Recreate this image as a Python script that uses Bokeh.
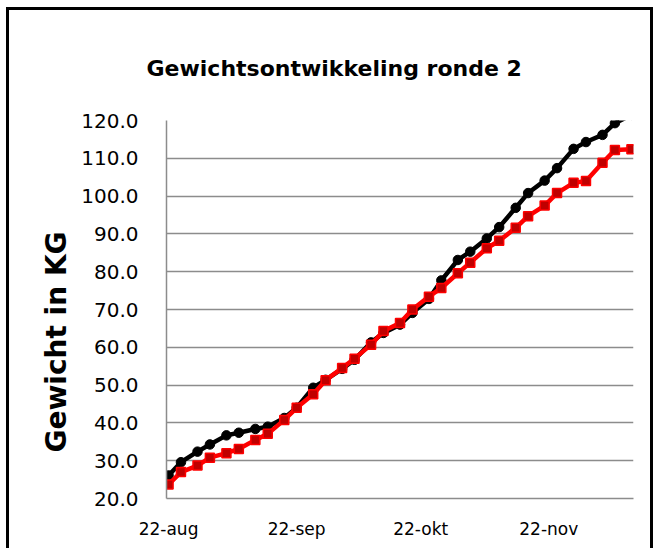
import pandas as pd
from bokeh.plotting import figure
from bokeh.models import ColumnDataSource, FixedTicker, Range1d, NumeralTickFormatter, Title
from bokeh.embed import file_html
from bokeh.resources import INLINE

# ---- data ----
dates = ["2011-08-22", "2011-08-25", "2011-08-29", "2011-09-01", "2011-09-05", "2011-09-08",
         "2011-09-12", "2011-09-15", "2011-09-19", "2011-09-22", "2011-09-26", "2011-09-29",
         "2011-10-03", "2011-10-06", "2011-10-10", "2011-10-13", "2011-10-17", "2011-10-20",
         "2011-10-24", "2011-10-27", "2011-10-31", "2011-11-03", "2011-11-07", "2011-11-10",
         "2011-11-14", "2011-11-17", "2011-11-21", "2011-11-24", "2011-11-28", "2011-12-01",
         "2011-12-05", "2011-12-08", "2011-12-12"]
black_series = [26.1, 29.6, 32.4, 34.3, 36.7, 37.4, 38.4, 39.0, 41.3, 44.0,
                49.3, 51.4, 54.3, 56.7, 61.3, 63.8, 66.0, 69.1, 72.8, 77.7,
                83.1, 85.3, 88.8, 91.8, 96.9, 100.8, 104.1, 107.4, 112.5, 114.3,
                116.2, 119.3, 121.5]
red_series = [23.7, 27.0, 28.7, 30.8, 32.0, 33.1, 35.5, 37.1, 40.8, 44.0,
              47.6, 51.3, 54.5, 57.0, 60.7, 64.3, 66.4, 70.0, 73.4, 75.7,
              79.6, 82.4, 86.2, 88.2, 91.6, 94.7, 97.5, 100.8, 103.5, 104.0,
              108.8, 112.2, 112.4]
tick_dates = ["2011-08-22", "2011-09-22", "2011-10-22", "2011-11-22"]
tick_labels = ["22-aug", "22-sep", "22-okt", "22-nov"]
y_ticks = [20, 30, 40, 50, 60, 70, 80, 90, 100, 110, 120]
title_text = "Gewichtsontwikkeling ronde 2"
y_title = "Gewicht in KG"

FONT = "DejaVu Sans"
GRID = "#8c8c8c"

def to_ms(ds):
    return [float(pd.Timestamp(d).value // 10**6) for d in ds]

x_ms = to_ms(dates)
tick_ms = to_ms(tick_dates)
DAY = 86400000.0

x_start = x_ms[0] - 0.5 * DAY
x_end = x_ms[-1] + 0.5 * DAY

p = figure(width=647, height=541, x_axis_type="datetime",
           output_backend="svg", toolbar_location=None,
           x_range=Range1d(start=x_start, end=x_end), y_range=Range1d(start=20, end=120),
           min_border_left=157, min_border_right=23, min_border_top=110, min_border_bottom=53)
p.styles = {"margin-left": "6px", "margin-top": "7px",
            "border": "3px solid black", "border-bottom": "none"}
p.outline_line_color = None
p.background_fill_color = "white"
p.border_fill_color = "white"

# chart title
p.title.text = title_text
p.title.text_font = FONT
p.title.text_font_style = "bold"
p.title.text_font_size = "22px"
p.title.text_color = "black"
p.title.align = "left"
p.title.offset = -20
p.title.vertical_align = "middle"
p.title.standoff = 78

# y-axis title (as a side title so it can sit lower, like the original)
ytitle = Title(text=y_title, text_font=FONT, text_font_style="bold", text_font_size="28px",
               text_color="black", align="left", offset=46, vertical_align="bottom", standoff=12)
p.add_layout(ytitle, "left")

# grid
p.xgrid.visible = False
p.ygrid.ticker = FixedTicker(ticks=y_ticks)
p.ygrid.grid_line_color = GRID
p.ygrid.grid_line_width = 1.5

# y axis
p.yaxis.ticker = FixedTicker(ticks=y_ticks)
p.yaxis.formatter = NumeralTickFormatter(format="0.0")
p.yaxis.axis_line_color = GRID
p.yaxis.axis_line_width = 1.5
p.yaxis.major_tick_line_color = None
p.yaxis.minor_tick_line_color = None
p.yaxis.major_label_standoff = 22
p.yaxis.major_label_text_font = FONT
p.yaxis.major_label_text_font_size = "20px"
p.yaxis.major_label_text_color = "black"

# x axis
p.xaxis.ticker = FixedTicker(ticks=tick_ms)
p.xaxis.major_label_overrides = {t: lab for t, lab in zip(tick_ms, tick_labels)}
p.xaxis.axis_line_color = GRID
p.xaxis.axis_line_width = 1.5
p.xaxis.major_tick_line_color = None
p.xaxis.minor_tick_line_color = None
p.xaxis.major_label_standoff = 14
p.xaxis.major_label_text_font = FONT
p.xaxis.major_label_text_font_size = "17px"
p.xaxis.major_label_text_color = "black"

src_b = ColumnDataSource(dict(x=x_ms, y=black_series))
src_r = ColumnDataSource(dict(x=x_ms, y=red_series))

p.line("x", "y", source=src_b, line_color="black", line_width=4.5)
p.scatter("x", "y", source=src_b, marker="circle", size=9.5, fill_color="black", line_color="black")
p.line("x", "y", source=src_r, line_color="#ff0000", line_width=4.5)
p.scatter("x", "y", source=src_r, marker="square", size=9, fill_color="#c00000",
          line_color="#ff0000", line_width=1.5)

open("out.html", "w").write(file_html(p, INLINE))
